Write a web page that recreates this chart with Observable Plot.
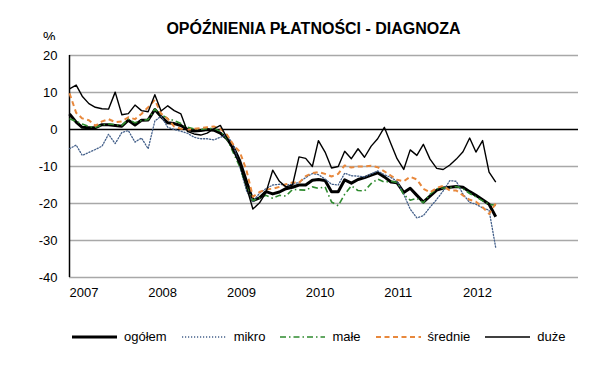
<!DOCTYPE html>
<html>
<head>
<meta charset="utf-8">
<script src="https://cdn.jsdelivr.net/npm/d3@7"></script>
<script src="https://cdn.jsdelivr.net/npm/@observablehq/plot@0.6"></script>
<style>
  body { margin: 0; background: #fff; font-family: "Liberation Sans", Arial, sans-serif; color: #000; }
  #wrap { position: relative; width: 599px; height: 378px; overflow: hidden; background: #fff; }
  #title { position: absolute; left: 0; top: 20px; width: 599px; padding-left: 28px; box-sizing: border-box;
           text-align: center; font-weight: bold; font-size: 16px; line-height: 18px; }
  #pct { position: absolute; left: 43px; top: 29px; font-size: 14px; line-height: 16px; }
  #chart { position: absolute; left: 0; top: 40px; }
  #legend { position: absolute; left: 72px; top: 329px; display: flex; align-items: center; gap: 15px;
            font-size: 13px; line-height: 16px; }
  .item { display: flex; align-items: center; gap: 7px; }
  .item svg { display: block; }
</style>
</head>
<body>
<div id="wrap">
  <div id="title">OPÓŹNIENIA PŁATNOŚCI - DIAGNOZA</div>
  <div id="pct">%</div>
  <div id="chart"></div>
  <div id="legend"></div>
</div>
<script>
// ---- data (monthly, from January 2007) ----
const startYear = 2007;
const years = [2007, 2008, 2009, 2010, 2011, 2012];
const yTicks = [20, 10, 0, -10, -20, -30, -40];
const seriesNames = ["ogółem", "mikro", "małe", "średnie", "duże"];

const ogolem = [4.2,2,0.6,0.5,0.5,1.3,1.3,1.1,0.9,2.5,
  1.2,2.5,2.6,5.4,3.5,1.8,1.6,1.1,0,-0.4,
  -0.3,0,-0.2,-1,-2.5,-5,-8.5,-14,-19.2,-18.5,
  -16.8,-17.4,-16.9,-16,-15.6,-15,-15,-13.7,-13.5,-13.8,
  -16.8,-16.8,-13.6,-14.5,-13.5,-13,-12.3,-11.7,-12.8,-14.2,
  -14.4,-17,-15.9,-17.8,-19.6,-18,-16.4,-15.8,-15.6,-15.4,
  -15.6,-16.8,-17.8,-19,-20.2,-23.6];
const mikro = [-5.2,-4.2,-7,-6.2,-5.4,-4.5,-1.3,-3.8,-0.8,-0.3,
  -3.4,-2.3,-5.2,2.3,3.6,0.6,0,-0.5,-1,-2.1,
  -2.5,-2.5,-2.8,-2.1,-1.4,-4.5,-10,-16.5,-19.5,-17.2,
  -16,-15,-14.8,-15,-14.8,-14.3,-13,-11.9,-12.2,-13.4,
  -14.8,-15,-11.8,-12.5,-12.6,-12.8,-12,-11.2,-12.2,-13,
  -14,-17.5,-21.5,-23.9,-23.3,-21,-18.9,-16.6,-13.8,-14,
  -17.5,-19.7,-20.2,-21.2,-21.8,-32];
const male = [2.9,2.2,1.5,0.8,0.6,1.2,1.5,1.3,1.1,2.8,
  1.8,2.4,2.7,5.5,4,3,2.4,1.6,0.6,0.2,
  0,0.2,0.3,-0.5,-2.5,-6.5,-10,-15.5,-19.2,-18.5,
  -17.8,-18.6,-17.8,-18,-16.2,-16.3,-16.4,-15.5,-15.9,-15.5,
  -19.6,-20.6,-17.5,-15.2,-16.5,-16.6,-14.6,-13.4,-14.2,-14,
  -14.3,-17.6,-19.1,-18.6,-19.8,-17.5,-16,-15.8,-15.7,-15.4,
  -16,-17.3,-18.2,-19.3,-20.2,-20.5];
const srednie = [9.8,4.5,3,2.5,1,2.2,2.8,2,2.2,3.3,
  2.8,4.2,6,8,4.3,2.9,0.8,0.2,-0.1,0.2,
  0.4,0.6,0.8,0.2,-1.4,-4.3,-6,-11,-18.2,-16.9,
  -16.2,-16,-15.5,-14.8,-14.3,-14.4,-12.6,-11.8,-11.5,-12,
  -12.7,-12,-9.7,-10.3,-10,-10,-9.8,-10.2,-11.3,-12.5,
  -13.6,-14,-12.8,-13.5,-16,-17,-15.8,-15.2,-16.5,-16.5,
  -17.8,-19,-19.5,-21,-22.8,-20];
const duze = [11,12,9,7,6,5.6,5.5,10.1,4,4.3,
  6.6,5.1,4.8,9.4,5,6.4,5.1,4.2,-0.5,-1.2,
  -1.5,-1,0.2,1.1,-2.3,-6,-9.5,-15.5,-21.5,-19.8,
  -17,-11,-14,-15.5,-15,-7.4,-7.8,-10,-3,-6.1,
  -10.4,-10,-5.9,-7.9,-5.2,-7.5,-4.5,-2.5,0.6,-3.9,
  -7.9,-10.8,-5.5,-7,-4,-8,-10.5,-10.8,-9.6,-8,
  -6,-2.3,-6.1,-3,-11.5,-14.2];

// ---- styles ----
const seriesValues = [ogolem, mikro, male, srednie, duze];
const seriesStroke = ["#000000", "#44608a", "#2e8b2e", "#e8883c", "#000000"];
const seriesWidth  = [3, 1.3, 1.6, 2, 1.4];
const seriesDash   = [null, "1.2,1.8", "6,3,1.5,3", "5,3.5", null];

const monthDate = i => new Date(Date.UTC(startYear, i, 1));
const tables = seriesValues.map(vals => vals.map((v, i) => ({date: monthDate(i), value: v})));
const yearDates = years.map(y => new Date(Date.UTC(y, 0, 1)));
const xStart = new Date(Date.UTC(2007, 0, 1));
const xEnd = new Date(Date.UTC(2013, 5, 20));

const lineMarks = tables.map((t, k) => Plot.line(t, {
  x: "date", y: "value",
  stroke: seriesStroke[k], strokeWidth: seriesWidth[k],
  strokeDasharray: seriesDash[k] || undefined,
  strokeLinejoin: "round", strokeLinecap: k === 1 ? "round" : "butt"
}));

const chart = Plot.plot({
  width: 599, height: 278,
  marginTop: 15, marginBottom: 41, marginLeft: 69, marginRight: 21,
  style: { fontFamily: "'Liberation Sans', Arial, sans-serif", fontSize: "13px", color: "#000", background: "#fff", overflow: "visible" },
  x: { type: "utc", domain: [xStart, xEnd] },
  y: { domain: [-40, 20] },
  marks: [
    Plot.ruleY(yTicks.filter(v => v !== 0), { stroke: "#a8a8a8", strokeWidth: 1.5 }),
    Plot.ruleY([0], { stroke: "#000", strokeWidth: 1.5 }),
    Plot.ruleX([xStart], { stroke: "#000", strokeWidth: 1.5 }),
    Plot.axisY({ ticks: yTicks, tickFormat: d => String(d), tickSize: 0, tickPadding: 12, label: null, fontSize: 13 }),
    Plot.axisX({ ticks: yearDates, tickFormat: d => String(d.getUTCFullYear()), tickSize: 0, tickPadding: 10,
                 textAnchor: "start", label: null, fontSize: 13 }),
    ...lineMarks
  ]
});
document.getElementById("chart").appendChild(chart);

// ---- legend ----
const legend = document.getElementById("legend");
const ns = "http://www.w3.org/2000/svg";
seriesNames.forEach((name, k) => {
  const item = document.createElement("div");
  item.className = "item";
  const s = document.createElementNS(ns, "svg");
  s.setAttribute("width", 45); s.setAttribute("height", 10);
  const ln = document.createElementNS(ns, "line");
  ln.setAttribute("x1", 0); ln.setAttribute("x2", 45);
  ln.setAttribute("y1", 5); ln.setAttribute("y2", 5);
  ln.setAttribute("stroke", seriesStroke[k]);
  ln.setAttribute("stroke-width", seriesWidth[k]);
  if (seriesDash[k]) ln.setAttribute("stroke-dasharray", seriesDash[k]);
  s.appendChild(ln);
  const t = document.createElement("span");
  t.textContent = name;
  item.appendChild(s); item.appendChild(t);
  legend.appendChild(item);
});
</script>
</body>
</html>
